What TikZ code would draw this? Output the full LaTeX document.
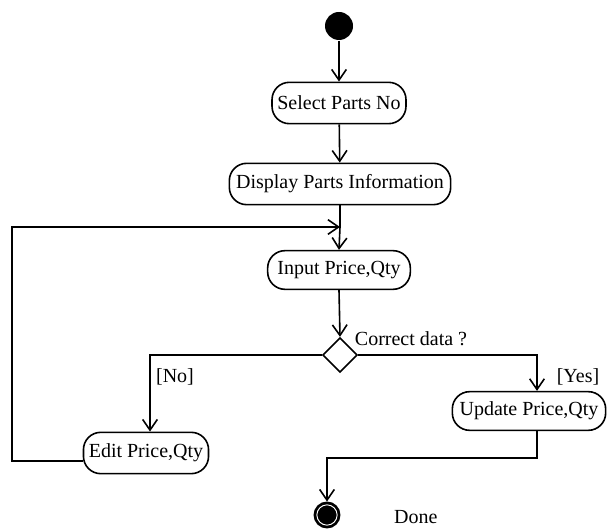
\documentclass[tikz,border=0pt]{standalone}
\usepackage{fontspec}
\setmainfont{Liberation Serif}
\usetikzlibrary{arrows.meta,shapes.geometric}
\begin{document}
\begin{tikzpicture}[x=0.75pt,y=-0.75pt,
  line width=1.2pt,
  every node/.style={font=\fontsize{15}{17}\selectfont},
  act/.style={draw, rectangle, rounded corners=13pt, inner xsep=4pt, inner ysep=0pt, minimum height=31pt},
  arr/.style={-{Straight Barb[length=8pt,width=11pt,line width=1.2pt]}},
  lbl/.style={inner sep=1pt}
]
\useasboundingbox (0,0) rectangle (607,530);
% nodes
\node[circle, fill=black, inner sep=0pt, minimum size=21pt] (start) at (339,26) {};
\node[act, minimum width=100pt] (sel) at (339,103) {Select Parts No};
\node[act, minimum width=166pt] (disp) at (340,184) {Display Parts Information};
\node[act, minimum width=107pt, minimum height=29pt] (inp) at (339,270) {Input Price,Qty};
\node[diamond, draw, inner sep=0pt, minimum width=26pt, minimum height=26pt] (dec) at (340,355) {};
\node[act, minimum width=88pt] (edit) at (146,453) {Edit Price,Qty};
\node[act, minimum width=115pt, minimum height=29pt] (upd) at (529,411) {Update Price,Qty};
\node[circle, draw, fill=black, inner sep=0pt, minimum size=19pt] (end) at (327,515) {};
\draw[white, line width=0.7pt] (end.center) circle (7.6pt);
% helper coordinates
\coordinate (j) at (340,227);
\coordinate (lx) at (12,227);
\coordinate (nx) at (150,355);
\coordinate (yx) at (537,355);
\coordinate (hy) at (537,458);
% connectors
\draw[arr] (start) -- (sel);
\draw[arr] (sel) -- (disp);
\draw (disp.south) -- (j);
\draw[arr] (j) -- (inp.north);
\draw[arr] ([yshift=-6pt]edit.west) -- ([yshift=-6pt]edit.west -| lx) -- (lx) -- (j);
\draw[arr] (inp.south) -- (dec.north);
\draw[arr] (dec.west) -- (nx) -- (nx |- edit.north);
\draw[arr] (dec.east) -- (yx) -- (yx |- upd.north);
\draw[arr] (yx |- upd.south) -- (hy) -| (end.north);
% labels
\node[lbl] (cd) at (411,339) {Correct data ?};
\node[lbl, anchor=west] (no) at (154,377) {[No]};
\node[lbl] (yes) at (578,377) {[Yes]};
\node[lbl, anchor=west] (done) at (392,517) {Done};
\end{tikzpicture}
\end{document}
